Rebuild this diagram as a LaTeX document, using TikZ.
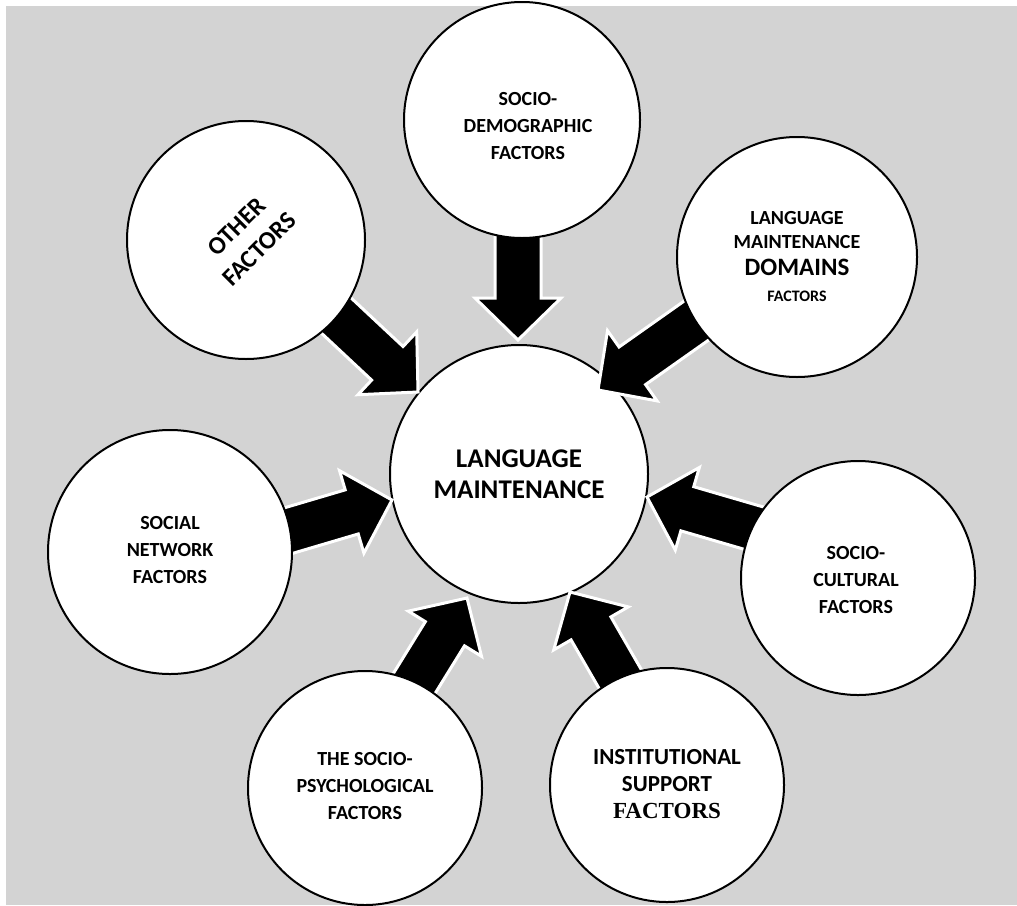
\documentclass[tikz,border=0pt]{standalone}
\usepackage{fontspec}
\setmainfont{Carlito}
\newfontfamily\serifbold{Liberation Serif}
\usetikzlibrary{calc}
\definecolor{panel}{RGB}{211,211,211}

% block arrow from #1 (tail) to #2 (tip): shaft half-width 23, head half-width 43, head length 42
\newcommand\blockarrow[2]{%
  \coordinate (#1-neck) at ($(#2)!42pt!(#1)$);
  \filldraw[barrow]
    ($(#1)!23pt!90:(#2)$) -- ($(#1-neck)!23pt!90:(#2)$) -- ($(#1-neck)!43pt!90:(#2)$)
    -- (#2)
    -- ($(#1-neck)!43pt!-90:(#2)$) -- ($(#1-neck)!23pt!-90:(#2)$) -- ($(#1)!23pt!-90:(#2)$)
    -- cycle;}

\begin{document}
\begin{tikzpicture}[x=1pt,y=-1pt,
  bubble/.style={circle, draw=black, line width=2pt, fill=white, inner sep=0pt},
  caption/.style={align=center, inner sep=0pt, font=\bfseries\fontsize{20}{27}\selectfont},
  barrow/.style={fill=black, draw=white, line width=3pt, line join=miter}]

\useasboundingbox (0,0) rectangle (1017,905);
\fill[panel] (6,6) rectangle (1017,905);

% central circle
\node[bubble, minimum size=258pt] (lm) at (519,474) {};

% arrow end points
\coordinate (demo-from)     at (518,225);  \coordinate (demo-to)     at (518,340);
\coordinate (other-from)    at (325,305);  \coordinate (other-to)    at (418,392);
\coordinate (domains-from)  at (700,318);  \coordinate (domains-to)  at (598,390);
\coordinate (cultural-from) at (767,532);  \coordinate (cultural-to) at (647,497);
\coordinate (network-from)  at (277,534);  \coordinate (network-to)  at (392,500);
\coordinate (psych-from)    at (404,700);  \coordinate (psych-to)    at (467,598);
\coordinate (inst-from)     at (630,696);  \coordinate (inst-to)     at (570,592);

\blockarrow{demo-from}{demo-to}
\blockarrow{other-from}{other-to}
\blockarrow{domains-from}{domains-to}
\blockarrow{cultural-from}{cultural-to}
\blockarrow{network-from}{network-to}
\blockarrow{psych-from}{psych-to}
\blockarrow{inst-from}{inst-to}

% surrounding factor circles
\node[bubble, minimum size=236pt] (demo)     at (522,120) {};
\node[bubble, minimum size=238pt] (other)    at (246,240) {};
\node[bubble, minimum size=240pt] (domains)  at (797,257) {};
\node[bubble, minimum size=234pt] (cultural) at (858,578) {};
\node[bubble, minimum size=244pt] (network)  at (170,552) {};
\node[bubble, minimum size=234pt] (psych)    at (365,788) {};
\node[bubble, minimum size=234pt] (inst)     at (667,785) {};

% labels
\node[caption, font=\bfseries\fontsize{27}{31}\selectfont] (lm-text) at (519,474) {LANGUAGE\\MAINTENANCE};
\node[caption] (demo-text) at (528,126) {SOCIO-\\DEMOGRAPHIC\\FACTORS};
\node[caption, font=\bfseries\fontsize{25}{32}\selectfont, rotate=45] (other-text) at (248,238) {OTHER\\FACTORS};
\node[caption, font=\bfseries\fontsize{20}{24}\selectfont] (domains-text) at (797,256)
  {LANGUAGE\\MAINTENANCE\\[3pt]{\fontsize{25}{28}\selectfont DOMAINS}\\[2pt]{\fontsize{16}{20}\selectfont FACTORS}};
\node[caption] (cultural-text) at (856,580) {SOCIO-\\CULTURAL\\FACTORS};
\node[caption] (network-text) at (170,550) {SOCIAL\\NETWORK\\FACTORS};
\node[caption, font=\bfseries\fontsize{20}{27}\selectfont] (psych-text) at (365,786) {THE SOCIO-\\PSYCHOLOGICAL\\FACTORS};
\node[caption, font=\bfseries\fontsize{23}{27}\selectfont] (inst-text) at (667,784) {INSTITUTIONAL\\SUPPORT\\{\serifbold FACTORS}};
\end{tikzpicture}
\end{document}
